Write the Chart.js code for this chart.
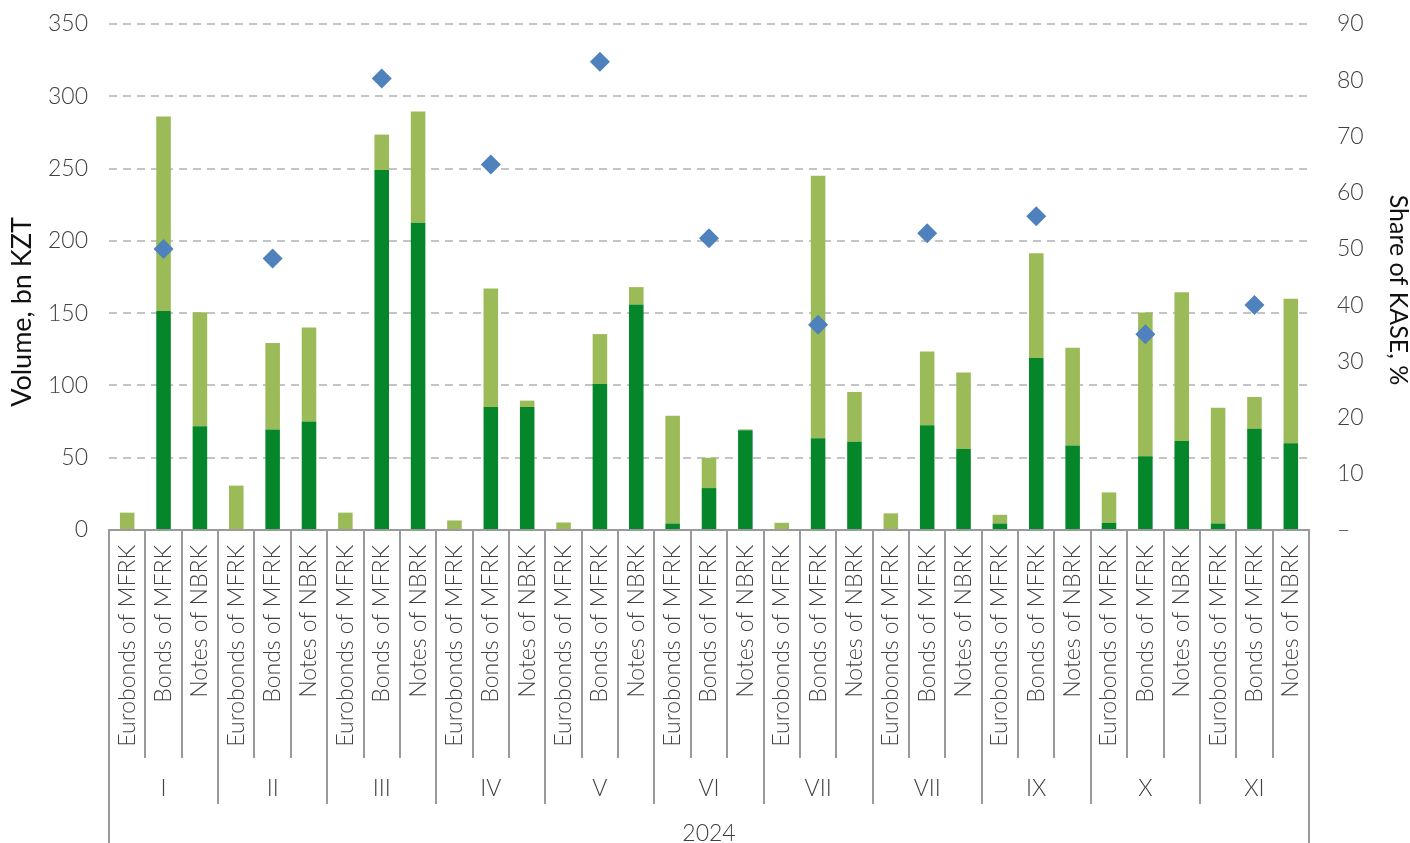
<!DOCTYPE html>
<html>
<head>
<meta charset="utf-8">
<title>Volume and KASE share, 2024</title>
<script src="https://cdn.jsdelivr.net/npm/chart.js@4.4.1/dist/chart.umd.min.js"></script>
<style>
  html, body { margin: 0; padding: 0; background: #ffffff; }
  #wrap { width: 1410px; height: 843px; position: relative; }
</style>
</head>
<body>
<div id="wrap"><canvas id="chart" width="1410" height="843"></canvas></div>
<script>
// Months of 2024 (as labelled on the axis) and the three instruments per month
const months = ['I', 'II', 'III', 'IV', 'V', 'VI', 'VII', 'VII', 'IX', 'X', 'XI'];
const instruments = ['Eurobonds of MFRK', 'Bonds of MFRK', 'Notes of NBRK'];
const yearLabel = '2024';

// Volume, bn KZT – lower (dark) part of each stacked bar
const volumeLower = [
  0, 151.5, 71.7,
  0, 69.6, 75,
  0, 249, 212.5,
  0, 85, 85,
  0, 101, 156,
  4.5, 29, 69,
  0, 63.5, 61,
  0, 72.5, 56,
  4.5, 119, 58.5,
  5, 51, 61.5,
  4.5, 70, 60
];

// Volume, bn KZT – upper (light) part of each stacked bar
const volumeUpper = [
  12, 134.5, 79,
  30.7, 59.7, 65,
  12, 24.5, 77,
  6.6, 82, 4.5,
  5.2, 34.5, 12,
  74.5, 21, 0.6,
  5, 181.5, 34.5,
  11.5, 51, 53,
  6, 72.5, 67.5,
  21, 99.5, 103,
  80, 22, 100
];

// Share of KASE, % (shown for bonds of MFRK)
const kaseShare = [
  null, 50.0, null,
  null, 48.3, null,
  null, 80.3, null,
  null, 65.0, null,
  null, 83.3, null,
  null, 51.9, null,
  null, 36.5, null,
  null, 52.8, null,
  null, 55.8, null,
  null, 34.8, null,
  null, 40.0, null
];

// Axis tick settings
const volumeTicks = { min: 0, max: 350, step: 50 };
const shareTicks = { min: 0, max: 90, step: 10 };

const categories = months.flatMap(() => instruments);

const FONT = 'Lato, "Open Sans", "DejaVu Sans", sans-serif';
const TEXT_GREY = '#404040';
const LINE_GREY = '#9a9a9a';
const PLOT_TOP = 24;

// Draws the month / year grouping under the category axis and the axis titles
const groupedAxis = {
  id: 'groupedAxis',
  afterDraw(chart) {
    const { ctx, chartArea } = chart;
    const xs = chart.scales.x;
    const n = categories.length;
    const step = xs.getPixelForValue(1) - xs.getPixelForValue(0);
    const edge = i => (i < n ? xs.getPixelForValue(i) - step / 2 : xs.getPixelForValue(n - 1) + step / 2);
    const base = chartArea.bottom;
    const H = chart.height;

    ctx.save();
    ctx.strokeStyle = LINE_GREY;
    ctx.lineWidth = 2;
    for (let i = 0; i <= n; i++) {
      let end = base + 228;
      if (i === 0 || i === n) end = H;
      else if (i % instruments.length === 0) end = base + 274;
      const x = Math.round(edge(i));
      ctx.beginPath();
      ctx.moveTo(x, base);
      ctx.lineTo(x, end);
      ctx.stroke();
    }

    ctx.fillStyle = TEXT_GREY;
    ctx.font = '300 23px ' + FONT;
    ctx.textAlign = 'center';
    ctx.textBaseline = 'middle';
    months.forEach((m, k) => {
      const x = xs.getPixelForValue(k * instruments.length + 1);
      ctx.fillText(m, x, base + 259);
    });
    ctx.fillText(yearLabel, (chartArea.left + chartArea.right) / 2, base + 304);

    // axis titles
    ctx.fillStyle = '#111111';
    ctx.font = '400 27px ' + FONT;
    ctx.save();
    ctx.translate(22, 312);
    ctx.rotate(-Math.PI / 2);
    ctx.fillText('Volume, bn KZT', 0, 0);
    ctx.restore();

    ctx.font = '400 25px ' + FONT;
    ctx.save();
    ctx.translate(1398, 290);
    ctx.rotate(Math.PI / 2);
    ctx.fillText('Share of KASE, %', 0, 0);
    ctx.restore();
    ctx.restore();
  }
};

// keeps the plot area at fixed offsets regardless of label overflow padding
const fitVertical = width => s => {
  s.width = width;
  s.paddingTop = 0;
  s.paddingBottom = 0;
};

new Chart(document.getElementById('chart'), {
  type: 'bar',
  data: {
    labels: categories,
    datasets: [
      {
        type: 'line',
        label: 'Share of KASE, %',
        data: kaseShare,
        yAxisID: 'y1',
        showLine: false,
        pointStyle: 'rectRot',
        pointRadius: 10,
        pointHoverRadius: 10,
        pointBackgroundColor: '#4F81BD',
        pointBorderColor: '#4F81BD',
        pointBorderWidth: 0,
        order: 0
      },
      {
        label: 'Volume (lower)',
        data: volumeLower,
        backgroundColor: '#05862A',
        borderWidth: 0,
        yAxisID: 'y',
        barPercentage: 0.4,
        categoryPercentage: 1.0,
        order: 1
      },
      {
        label: 'Volume (upper)',
        data: volumeUpper,
        backgroundColor: '#9BBB59',
        borderWidth: 0,
        yAxisID: 'y',
        barPercentage: 0.4,
        categoryPercentage: 1.0,
        order: 1
      }
    ]
  },
  options: {
    responsive: false,
    animation: false,
    devicePixelRatio: 1,
    layout: { padding: { top: PLOT_TOP, left: 0, right: 0, bottom: 0 } },
    plugins: {
      legend: { display: false },
      tooltip: { enabled: false }
    },
    scales: {
      x: {
        stacked: true,
        offset: true,
        grid: { display: false, drawTicks: false },
        border: { display: true, color: LINE_GREY, width: 2 },
        ticks: {
          autoSkip: false,
          minRotation: 90,
          maxRotation: 90,
          padding: 15,
          color: TEXT_GREY,
          font: { family: FONT, size: 23, weight: '300' }
        },
        afterFit: s => { s.height = 843 - 530; s.paddingLeft = 0; s.paddingRight = 0; }
      },
      y: {
        position: 'left',
        stacked: true,
        min: volumeTicks.min,
        max: volumeTicks.max,
        ticks: {
          stepSize: volumeTicks.step,
          padding: 21,
          color: TEXT_GREY,
          font: { family: FONT, size: 23, weight: '300' }
        },
        grid: {
          drawTicks: false,
          lineWidth: 2,
          color: c => (c.tick && c.tick.value === 0 ? 'rgba(0,0,0,0)' : '#c4c4c4')
        },
        border: { display: false, dash: [8, 6] },
        afterFit: fitVertical(109)
      },
      y1: {
        position: 'right',
        min: shareTicks.min,
        max: shareTicks.max,
        ticks: {
          stepSize: shareTicks.step,
          padding: 28,
          color: TEXT_GREY,
          font: { family: FONT, size: 23, weight: '300' },
          callback: v => (v === 0 ? '–' : v)
        },
        grid: { display: false, drawTicks: false },
        border: { display: false },
        afterFit: fitVertical(101)
      }
    }
  },
  plugins: [groupedAxis]
});
</script>
</body>
</html>
